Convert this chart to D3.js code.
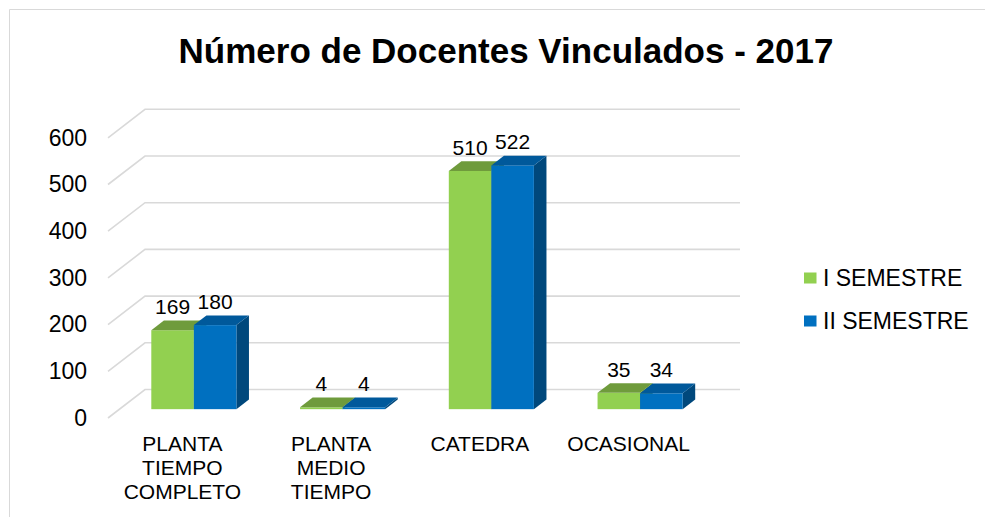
<!DOCTYPE html>
<html>
<head>
<meta charset="utf-8">
<script src="https://cdn.jsdelivr.net/npm/d3@7"></script>
<style>
  html, body { margin: 0; padding: 0; background: #fff; }
  svg { display: block; font-family: "Liberation Sans", Arial, sans-serif; }
</style>
</head>
<body>
<svg id="chart" width="985" height="517"></svg>
<script>
const title = "Número de Docentes Vinculados - 2017";
const categories = [
  ["PLANTA", "TIEMPO", "COMPLETO"],
  ["PLANTA", "MEDIO", "TIEMPO"],
  ["CATEDRA"],
  ["OCASIONAL"]
];
const seriesNames = ["I SEMESTRE", "II SEMESTRE"];
const semestre1 = [169, 4, 510, 35];
const semestre2 = [180, 4, 522, 34];
const yTicks = [0, 100, 200, 300, 400, 500, 600];

const svg = d3.select("#chart");

// chart border
svg.append("path")
  .attr("d", "M9.5,517 V9.5 H985")
  .attr("fill", "none").attr("stroke", "#d9d9d9").attr("stroke-width", 1);

// title
svg.append("text")
  .attr("x", 506).attr("y", 63)
  .attr("text-anchor", "middle")
  .attr("font-size", 35).attr("font-weight", "bold").attr("fill", "#000")
  .text(title);

// 3D geometry
const DX = 37, DY = 28.5;       // full depth offset
const f0 = 0.31, f1 = 0.65;     // bar front/back depth fractions
const x0 = 108, x1 = 703;       // front plane x extent

const y = d3.scaleLinear().domain([0, 600]).range([418, 137.8]);
const xBand = d3.scaleBand().domain(d3.range(categories.length)).range([x0, x1]).padding(0);
const groupW = xBand.bandwidth() * 0.572;
const xSeries = d3.scaleBand().domain(d3.range(seriesNames.length)).range([0, groupW]).padding(0);

// gridlines (side wall diagonal + back wall horizontal)
const grid = svg.append("g");
yTicks.forEach(t => {
  const yy = y(t);
  grid.append("path")
    .attr("d", `M${x0},${yy} L${x0 + DX},${yy - DY} L${x1 + DX},${yy - DY}`)
    .attr("fill", "none").attr("stroke", "#d9d9d9").attr("stroke-width", 1.6);
});

// y axis labels
const yAxis = d3.axisLeft(y).tickValues(yTicks).tickSize(0).tickPadding(21);
const yg = svg.append("g").attr("transform", `translate(${x0},0)`).call(yAxis);
yg.select(".domain").remove();
yg.selectAll("text").attr("font-size", 23).attr("fill", "#000")
  .attr("font-family", "Liberation Sans, Arial, sans-serif");

// bars
const colors = [
  { front: "#92d050", top: "#6f9b3c", side: "#5e8530" },
  { front: "#0070c0", top: "#00599b", side: "#00487c" }
];
const data = [semestre1, semestre2];
const d = f1 - f0;
const bars = svg.append("g");
const labels = svg.append("g");
categories.forEach((cat, ci) => {
  const gx = xBand(ci) + (xBand.bandwidth() - groupW) / 2;
  data.forEach((vals, si) => {
    const v = vals[ci];
    const w = xSeries.bandwidth();
    const xl = gx + xSeries(si) + f0 * DX;
    const yb = y(0) - f0 * DY;
    const yt = y(v) - f0 * DY;
    const ddx = d * DX, ddy = d * DY;
    const c = colors[si];
    // side
    bars.append("path")
      .attr("d", `M${xl + w},${yt} L${xl + w + ddx},${yt - ddy} L${xl + w + ddx},${yb - ddy} L${xl + w},${yb} Z`)
      .attr("fill", c.side);
    // front
    bars.append("rect")
      .attr("x", xl).attr("y", yt).attr("width", w).attr("height", Math.max(0, yb - yt))
      .attr("fill", c.front);
    // top
    bars.append("path")
      .attr("d", `M${xl},${yt} L${xl + w},${yt} L${xl + w + ddx},${yt - ddy} L${xl + ddx},${yt - ddy} Z`)
      .attr("fill", c.top);
    // value label
    labels.append("text")
      .attr("x", xl + w / 2).attr("y", yt - ddy - 6.5)
      .attr("text-anchor", "middle").attr("font-size", 21).attr("fill", "#000")
      .text(v);
  });
});

// category labels
const catG = svg.append("g");
categories.forEach((lines, ci) => {
  const cx = xBand(ci) + xBand.bandwidth() / 2;
  const t = catG.append("text").attr("text-anchor", "middle").attr("font-size", 21).attr("fill", "#000");
  lines.forEach((ln, li) => {
    t.append("tspan").attr("x", cx).attr("y", 450.7 + li * 24.2).text(ln);
  });
});

// legend
const legend = svg.append("g");
seriesNames.forEach((name, i) => {
  const ly = 278 + i * 43;
  legend.append("rect")
    .attr("x", 804).attr("y", ly - 5.5).attr("width", 12.5).attr("height", 11)
    .attr("fill", colors[i].front);
  legend.append("text")
    .attr("x", 823).attr("y", ly + 8)
    .attr("font-size", 23).attr("fill", "#000")
    .text(name);
});
</script>
</body>
</html>
